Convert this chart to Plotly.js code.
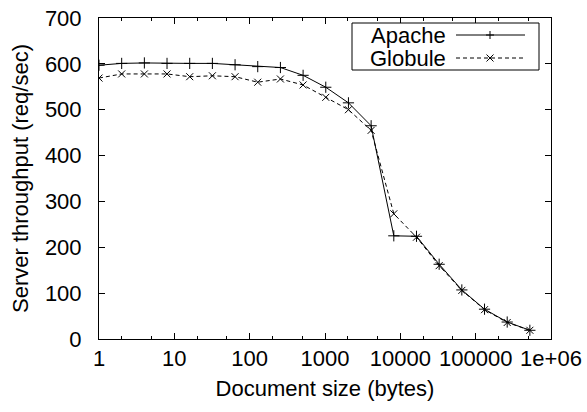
<!DOCTYPE html>
<html>
<head>
<meta charset="utf-8">
<script src="https://cdn.plot.ly/plotly-3.0.1.min.js"></script>
<style>html,body{margin:0;padding:0;background:#fff;}#chart{width:587px;height:412px;}</style>
</head>
<body>
<div id="chart"></div>
<script>
const sizes = [1,2,4,8,16,32,64,128,256,512,1024,2048,4096,8192,16384,32768,65536,131072,262144,524288];
const apache = [597,601,602,601,601,601,598,594,592,575,549,515,465,225,224,163,107,65,37,19];
const globule = [569,578,578,578,572,574,572,560,567,554,527,500,455,273,222,160,106,64,36,19];
const seriesNames = ["Apache","Globule"];
const xTickVals = [1,10,100,1000,10000,100000,1000000];
const xTickText = ["1","10","100","1000","10000","100000","1e+06"];

const W = 587, H = 412;
const M = {l: 99, r: 36, t: 18, b: 73};
const PW = W - M.l - M.r, PH = H - M.t - M.b;
const px = x => (x - M.l) / PW;
const py = y => (H - M.b - y) / PH;

const font = {family: "Liberation Sans, Arial, sans-serif", size: 22, color: "#000"};

const traces = [
  {x: sizes, y: apache, name: seriesNames[0], type: "scatter", mode: "lines+markers",
   line: {color: "#000", width: 1},
   marker: {symbol: "cross-thin", size: 8, line: {color: "#000", width: 1}, color: "#000"}},
  {x: sizes, y: globule, name: seriesNames[1], type: "scatter", mode: "lines+markers",
   line: {color: "#000", width: 1, dash: "4px,3px"},
   marker: {symbol: "x-thin", size: 7, line: {color: "#000", width: 1}, color: "#000"}}
];

// custom gnuplot-style legend
const rows = [35, 58];
const shapes = [
  {type: "rect", xref: "paper", yref: "paper", x0: px(352), x1: px(539), y0: py(70), y1: py(23),
   line: {color: "#000", width: 1}, fillcolor: "#fff", layer: "above"}
];
const annotations = [];
rows.forEach((ry, i) => {
  annotations.push({xref: "paper", yref: "paper", x: px(448), y: py(ry), xanchor: "right", yanchor: "middle",
    text: seriesNames[i], showarrow: false, font: font});
  shapes.push({type: "line", xref: "paper", yref: "paper", x0: px(456), x1: px(525), y0: py(ry), y1: py(ry),
    line: {color: "#000", width: 1, dash: i === 0 ? "solid" : "4px,3px"}, layer: "above"});
  const cx = 490, s = i === 0 ? 4 : 3.5;
  if (i === 0) {
    shapes.push({type: "path", xref: "paper", yref: "paper", layer: "above",
      path: `M${px(cx - s)},${py(ry)} L${px(cx + s)},${py(ry)} M${px(cx)},${py(ry - s)} L${px(cx)},${py(ry + s)}`,
      line: {color: "#000", width: 1}});
  } else {
    shapes.push({type: "path", xref: "paper", yref: "paper", layer: "above",
      path: `M${px(cx - s)},${py(ry - s)} L${px(cx + s)},${py(ry + s)} M${px(cx - s)},${py(ry + s)} L${px(cx + s)},${py(ry - s)}`,
      line: {color: "#000", width: 1}});
  }
});

const layout = {
  width: W, height: H,
  margin: M,
  paper_bgcolor: "#fff", plot_bgcolor: "#fff",
  showlegend: false,
  font: font,
  xaxis: {
    type: "log", range: [0, 6],
    tickvals: xTickVals, ticktext: xTickText,
    ticks: "inside", ticklen: 6, tickwidth: 1, tickcolor: "#000",
    minor: {ticks: "inside", ticklen: 3, tickcolor: "#000", dtick: "D2", showgrid: false},
    showline: true, linecolor: "#000", linewidth: 1, mirror: "allticks",
    showgrid: false, zeroline: false,
    tickfont: font,
    title: {text: "Document size (bytes)", font: font, standoff: 10}
  },
  yaxis: {
    range: [0, 700], dtick: 100, tick0: 0,
    ticks: "inside", ticklen: 6, tickwidth: 1, tickcolor: "#000",
    ticklabelstandoff: 12,
    showline: true, linecolor: "#000", linewidth: 1, mirror: "allticks",
    showgrid: false, zeroline: false,
    tickfont: font,
    title: {text: "Server throughput (req/sec)", font: font, standoff: 10}
  },
  shapes: shapes,
  annotations: annotations
};

Plotly.newPlot("chart", traces, layout, {displayModeBar: false, staticPlot: true});
</script>
</body>
</html>
